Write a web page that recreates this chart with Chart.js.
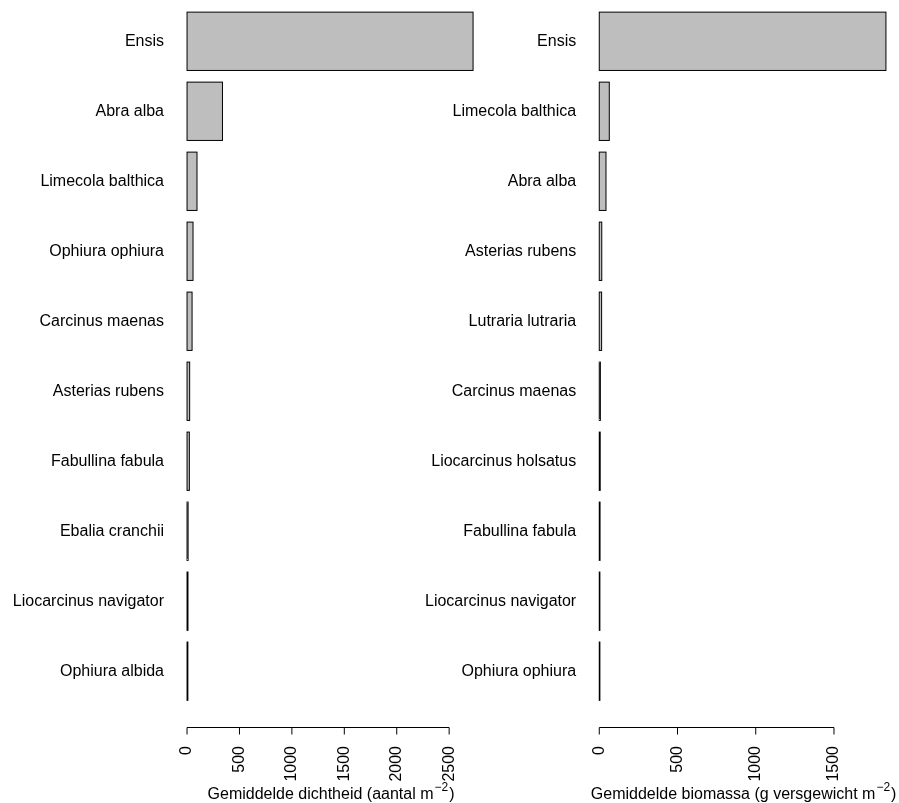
<!DOCTYPE html>
<html><head><meta charset="utf-8">
<script src="https://cdn.jsdelivr.net/npm/chart.js@4/dist/chart.umd.min.js"></script>
<style>
html,body{margin:0;padding:0;background:#fff;}
#wrap{position:relative;width:899px;height:803px;}
canvas{position:absolute;left:0;top:0;}
</style></head><body>
<div id="wrap"><canvas id="c1" width="899" height="803"></canvas><canvas id="c2" width="899" height="803"></canvas></div>
<script>
const densitySpecies = ['Ensis','Abra alba','Limecola balthica','Ophiura ophiura','Carcinus maenas','Asterias rubens','Fabullina fabula','Ebalia cranchii','Liocarcinus navigator','Ophiura albida'];
const densityValues = [2728, 338, 95, 57, 48, 25, 22, 10, 9, 8];
const densityTicks = [0, 500, 1000, 1500, 2000, 2500];
const densityTitle = ['Gemiddelde dichtheid (aantal m', '\u22122', ')'];

const biomassSpecies = ['Ensis','Limecola balthica','Abra alba','Asterias rubens','Lutraria lutraria','Carcinus maenas','Liocarcinus holsatus','Fabullina fabula','Liocarcinus navigator','Ophiura ophiura'];
const biomassValues = [1832, 64, 43, 16, 15, 7, 6, 5, 4, 4];
const biomassTicks = [0, 500, 1000, 1500];
const biomassTitle = ['Gemiddelde biomassa (g versgewicht m', '\u22122', ')'];

const FONT = '"Liberation Sans", Arial, Helvetica, sans-serif';

function rAxisPlugin(ticks, title) {
  return {
    id: 'rAxis',
    afterDatasetsDraw(chart) {
      // R-style bar outlines: 1px stroke centred on the bar edges
      const ctx = chart.ctx;
      ctx.save();
      ctx.strokeStyle = '#000';
      ctx.lineWidth = 1;
      chart.getDatasetMeta(0).data.forEach(el => {
        const p = el.getProps(['x', 'y', 'base', 'height'], true);
        ctx.strokeRect(p.base, p.y - p.height / 2, Math.max(p.x - p.base, 0.6), p.height);
      });
      ctx.restore();
    },
    afterDraw(chart) {
      const ctx = chart.ctx, sx = chart.scales.x, ca = chart.chartArea;
      const y = Math.round(ca.bottom + 21) + 0.5;
      const x0 = sx.getPixelForValue(ticks[0]);
      const x1 = sx.getPixelForValue(ticks[ticks.length - 1]);
      ctx.save();
      ctx.strokeStyle = '#000';
      ctx.lineWidth = 1;
      ctx.beginPath();
      ctx.moveTo(x0, y); ctx.lineTo(x1, y);
      ticks.forEach(v => { const px = sx.getPixelForValue(v); ctx.moveTo(px, y); ctx.lineTo(px, y + 7); });
      ctx.stroke();
      ctx.fillStyle = '#000';
      ctx.textBaseline = 'alphabetic';
      ctx.textAlign = 'left';
      const f1 = '16px ' + FONT, f2 = '12px ' + FONT;
      ctx.font = f1;
      const w1 = ctx.measureText(title[0]).width, w3 = ctx.measureText(title[2]).width;
      ctx.font = f2;
      const w2 = ctx.measureText(title[1]).width;
      const cx = (ca.left + ca.right) / 2;
      let tx = cx - (w1 + w2 + w3) / 2;
      const by = ca.bottom + 93;
      ctx.font = f1; ctx.fillText(title[0], tx, by); tx += w1 + 1;
      ctx.font = f2; ctx.fillText(title[1], tx, by - 8); tx += w2 + 1;
      ctx.font = f1; ctx.fillText(title[2], tx, by);
      ctx.restore();
    }
  };
}

function makeChart(id, labels, values, ticks, title, yWidth, padRight) {
  const maxV = Math.max(...values);
  return new Chart(document.getElementById(id), {
    type: 'bar',
    data: {
      labels: labels,
      datasets: [{
        data: values,
        backgroundColor: '#bebebe',
        borderWidth: 0,
        barPercentage: 1 / 1.2,
        categoryPercentage: 1,
        inflateAmount: 0
      }]
    },
    options: {
      indexAxis: 'y',
      responsive: false,
      animation: false,
      devicePixelRatio: 1,
      layout: { padding: { top: 6.3, right: padRight, bottom: 0, left: 0 } },
      plugins: { legend: { display: false }, tooltip: { enabled: false } },
      scales: {
        x: {
          type: 'linear',
          min: -0.04 * maxV,
          max: 1.04 * maxV,
          grid: { display: false, drawTicks: false },
          border: { display: false },
          afterBuildTicks: s => { s.ticks = ticks.map(v => ({ value: v })); },
          afterFit: s => { s.height = 96.8; s.paddingLeft = 0; s.paddingRight = 0; },
          ticks: {
            minRotation: 90, maxRotation: 90, padding: 39.8, autoSkip: false,
            color: '#000', font: { size: 16, family: FONT },
            callback: v => String(v)
          }
        },
        y: {
          type: 'category',
          offset: true,
          grid: { display: false, drawTicks: false },
          border: { display: false },
          afterFit: s => { s.width = yWidth; s.paddingTop = 0; s.paddingBottom = 0; },
          ticks: { padding: 11.6, autoSkip: false, color: '#000', font: { size: 16, family: FONT } }
        }
      }
    },
    plugins: [rAxisPlugin(ticks, title)]
  });
}

makeChart('c1', densitySpecies, densityValues, densityTicks, densityTitle, 175.6, 899 - 484.5);
makeChart('c2', biomassSpecies, biomassValues, biomassTicks, biomassTitle, 587.8, 1.6);
</script>
</body></html>
